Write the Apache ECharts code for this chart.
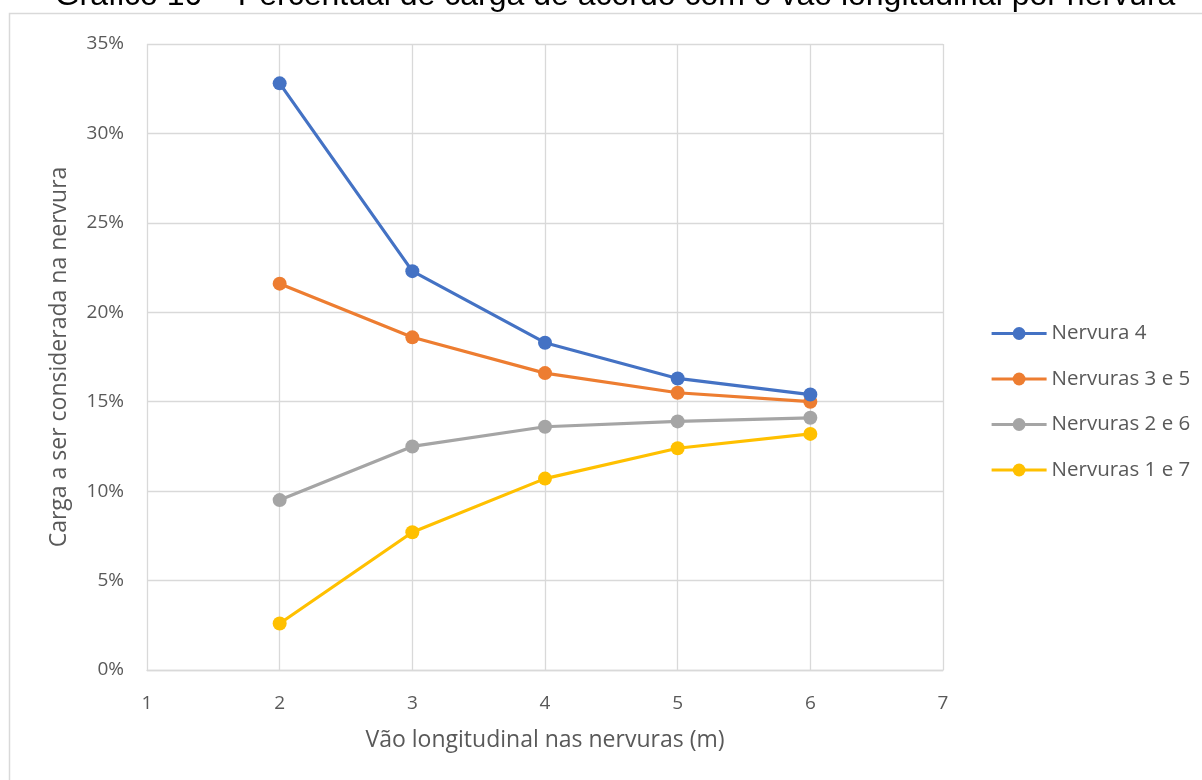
<!DOCTYPE html>
<html>
<head>
<meta charset="utf-8">
<script src="https://cdn.jsdelivr.net/npm/echarts@6/dist/echarts.min.js"></script>
<style>
  html, body { margin: 0; padding: 0; background: #ffffff; }
  #chart { width: 1202px; height: 780px; }
</style>
</head>
<body>
<div id="chart"></div>
<script>
// Span of the ribs (m) and load share (%) carried by each rib group
const spans = [2, 3, 4, 5, 6];
const nervura4 = [32.8, 22.3, 18.3, 16.3, 15.4];
const nervuras35 = [21.6, 18.6, 16.6, 15.5, 15.0];
const nervuras26 = [9.5, 12.5, 13.6, 13.9, 14.1];
const nervuras17 = [2.6, 7.7, 10.7, 12.4, 13.2];

const seriesNames = ['Nervura 4', 'Nervuras 3 e 5', 'Nervuras 2 e 6', 'Nervuras 1 e 7'];
const seriesColors = ['#4472C4', '#ED7D31', '#A5A5A5', '#FFC000'];
const seriesValues = [nervura4, nervuras35, nervuras26, nervuras17];

const titleText = 'Gráfico 10 – Percentual de carga de acordo com o vão longitudinal por nervura';
const xAxisTitle = 'Vão longitudinal nas nervuras (m)';
const yAxisTitle = 'Carga a ser considerada na nervura';

const textColor = '#595959';
const gridColor = '#d9d9d9';
const labelFont = 'Open Sans';

const chart = echarts.init(document.getElementById('chart'), null, { renderer: 'canvas' });

const series = seriesNames.map((name, i) => ({
  name: name,
  type: 'line',
  data: spans.map((x, j) => [x, seriesValues[i][j]]),
  symbol: 'circle',
  symbolSize: 14,
  showSymbol: true,
  lineStyle: { width: 3.2, color: seriesColors[i] },
  itemStyle: { color: seriesColors[i] },
  emphasis: { disabled: true },
  z: 10 - i
}));

chart.setOption({
  animation: false,
  backgroundColor: '#ffffff',
  graphic: [
    {
      type: 'rect',
      shape: { x: 9.5, y: 13.5, width: 1300, height: 900 },
      style: { fill: 'none', stroke: gridColor, lineWidth: 1.5 },
      silent: true,
      z: 0
    },
    {
      type: 'text',
      x: 615,
      y: -20,
      style: {
        text: titleText,
        font: '32px "Liberation Sans", Arial, sans-serif',
        fill: '#000000',
        align: 'center',
        verticalAlign: 'top'
      },
      silent: true,
      z: 1
    }
  ],
  grid: { left: 147, right: 259, top: 44, bottom: 110, containLabel: false },
  legend: {
    orient: 'vertical',
    left: 990,
    top: 323,
    padding: 0,
    itemWidth: 55,
    itemHeight: 16,
    itemGap: 24.5,
    data: seriesNames,
    textStyle: { color: textColor, fontFamily: labelFont, fontSize: 20.5, padding: [0, 0, 0, 0] },
    lineStyle: { width: 3.2 },
    itemStyle: { borderWidth: 0 },
    selectedMode: false
  },
  xAxis: {
    type: 'value',
    min: 1,
    max: 7,
    interval: 1,
    name: xAxisTitle,
    nameLocation: 'middle',
    nameGap: 59,
    nameTextStyle: { color: textColor, fontFamily: labelFont, fontSize: 23 },
    axisLine: { show: true, lineStyle: { color: gridColor, width: 1.3 } },
    axisTick: { show: false },
    axisLabel: { color: textColor, fontFamily: labelFont, fontSize: 19, margin: 24 },
    splitLine: { show: true, lineStyle: { color: gridColor, width: 1.3 } }
  },
  yAxis: {
    type: 'value',
    min: 0,
    max: 35,
    interval: 5,
    name: yAxisTitle,
    nameLocation: 'middle',
    nameGap: 76,
    nameRotate: 90,
    nameTextStyle: { color: textColor, fontFamily: labelFont, fontSize: 23 },
    axisLine: { show: false },
    axisTick: { show: false },
    axisLabel: { color: textColor, fontFamily: labelFont, fontSize: 19, margin: 23, formatter: '{value}%' },
    splitLine: { show: true, lineStyle: { color: gridColor, width: 1.3 } }
  },
  series: series
});
</script>
</body>
</html>
